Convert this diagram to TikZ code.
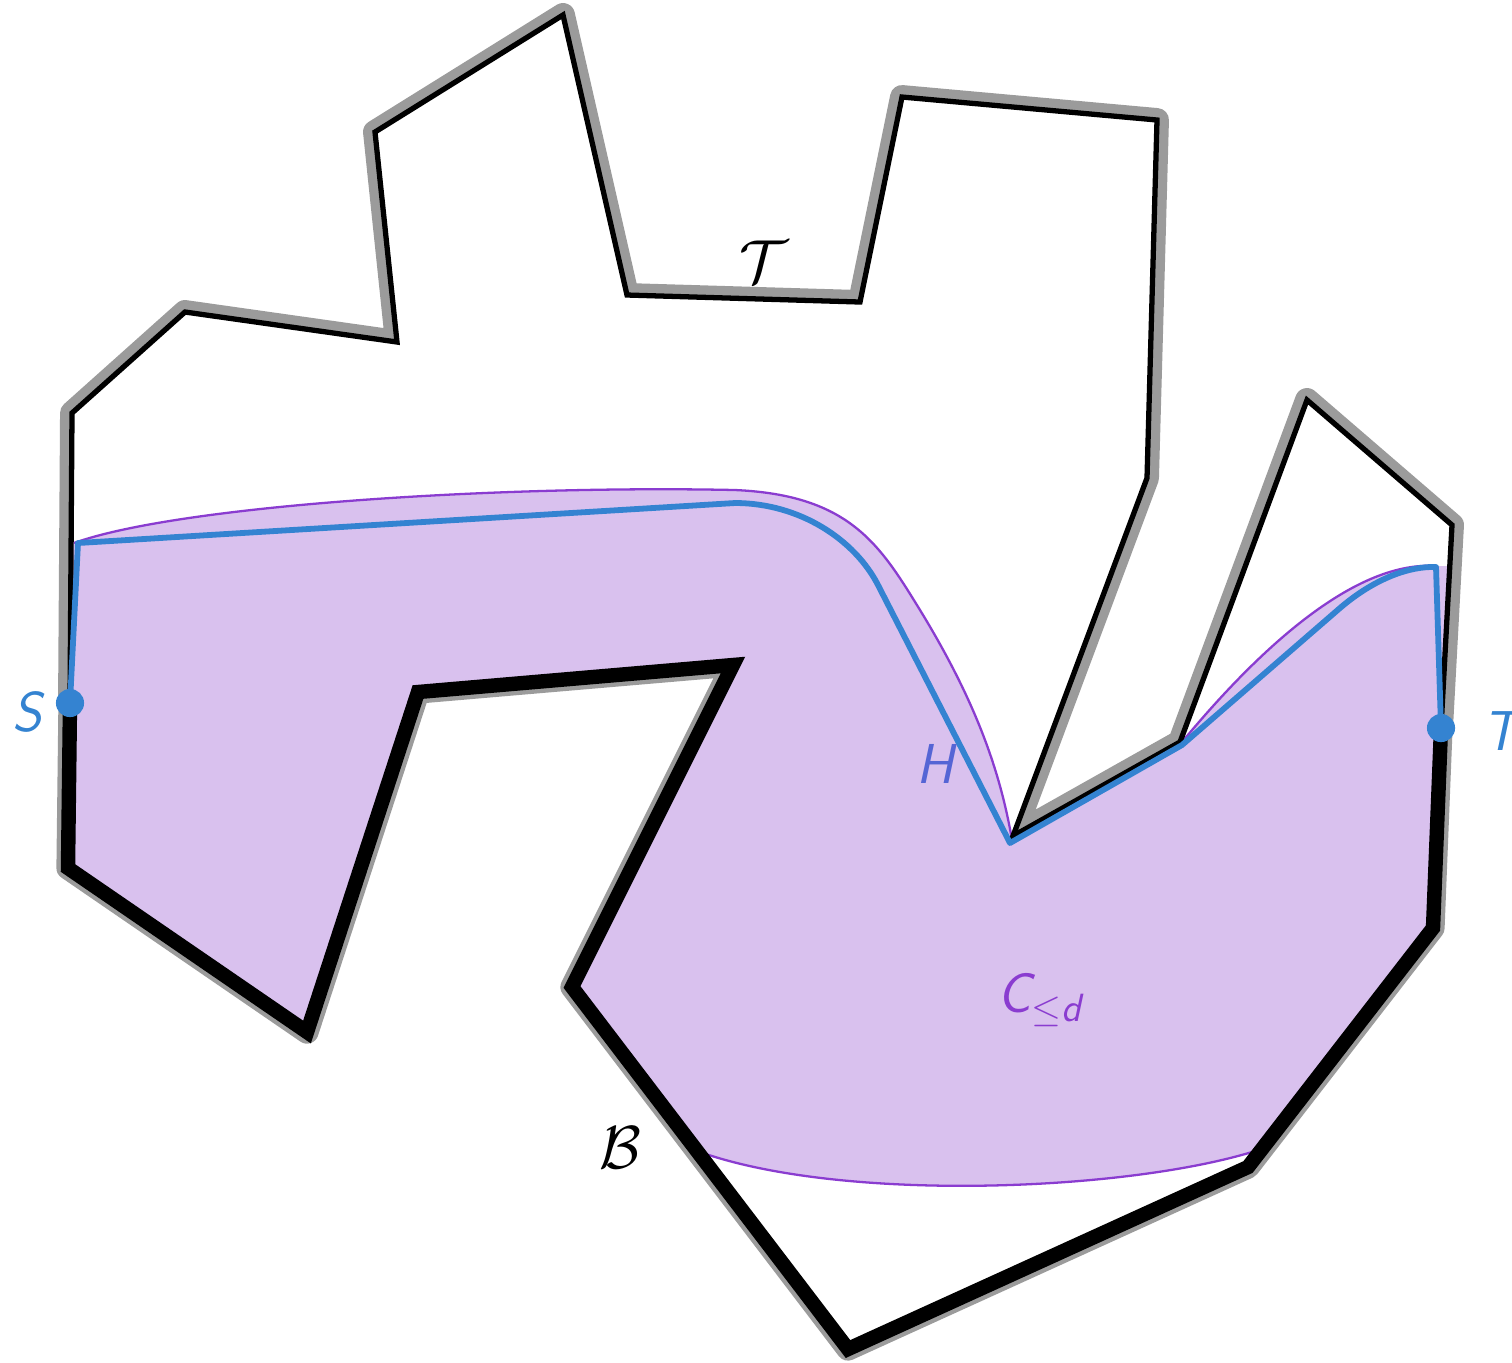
\documentclass[tikz,border=0pt]{standalone}
\usepackage{amsmath,amssymb}
\usepackage{tikz}
\usetikzlibrary{calc}
\definecolor{RimGray}{HTML}{9B9B9B}
\definecolor{PathBlue}{HTML}{3483D1}
\definecolor{ZoneLilac}{HTML}{D9C1EE}
\definecolor{ZonePurple}{HTML}{8A3CD0}
\definecolor{HIndigo}{HTML}{5565D5}
\tikzset{
  topshadow/.style={draw=RimGray,line width=6.8pt,line join=round,line cap=round},
  botshadow/.style={draw=RimGray,line width=6.6pt,line join=round,line cap=round},
  toprim/.style={draw=black,line width=1.5pt,line join=miter},
  botrim/.style={draw=black,line width=4.1pt,line join=miter},
  zoneedge/.style={draw=ZonePurple,line width=0.65pt},
  hpath/.style={draw=PathBlue,line width=1.65pt,line join=round},
  termdot/.style={circle,fill=PathBlue,inner sep=0pt,minimum size=8pt},
  lab/.style={font=\fontsize{16}{19}\selectfont\sffamily\itshape},
  callab/.style={font=\fontsize{17}{20}\selectfont},
  rimpath/.style={insert path={(S)--(t1)--(t2)--(t3)--(t4)--(t5)--(t6)--(t7)--(t8)--(t9)--(t10)--(t11)--(t12)--(t13)--(t14)--(T)--(b1)--(b2)--(b3)--(b4)--(b5)--(b6)--(b7)--(b8)--cycle}}
}

\begin{document}
\begin{tikzpicture}[x=0.01cm,y=-0.01cm]
\useasboundingbox (0,0) rectangle (1512,1362);
% boundary vertices (top chain T, bottom chain B)
\coordinate (S) at (70,703);
\coordinate (t1) at (72,413);
\coordinate (t2) at (185,312);
\coordinate (t3) at (397,342);
\coordinate (t4) at (375,132);
\coordinate (t5) at (563,15);
\coordinate (t6) at (627,295);
\coordinate (t7) at (860,302);
\coordinate (t8) at (902,97);
\coordinate (t9) at (1157,120);
\coordinate (t10) at (1147,478);
\coordinate (t11) at (1013,836);
\coordinate (t12) at (1180,742);
\coordinate (t13) at (1307,400);
\coordinate (t14) at (1452,525);
\coordinate (T) at (1441,728);
\coordinate (b1) at (1433,928);
\coordinate (b2) at (1248,1167);
\coordinate (b3) at (848,1349);
\coordinate (b4) at (572,987);
\coordinate (b5) at (733,665);
\coordinate (b6) at (418,692);
\coordinate (b7) at (307,1032);
\coordinate (b8) at (68,868);
% path H
\coordinate (h1) at (78,543);
\coordinate (h2) at (735,503);
\coordinate (h3) at (878,585);
\coordinate (h4) at (1010,843);
\coordinate (h5) at (1182,745);
\coordinate (h6) at (1340,608);
\coordinate (h7) at (1436,567);

\draw[topshadow] (S)--(t1)--(t2)--(t3)--(t4)--(t5)--(t6)--(t7)--(t8)--(t9)--(t10)--(t11)--(t12)--(t13)--(t14)--(T);
\draw[botshadow] (T)--(b1)--(b2)--(b3)--(b4)--(b5)--(b6)--(b7)--(b8)--(S);
\fill[white,rimpath];

\begin{scope}
\clip[rimpath];
\fill[ZoneLilac] (0,542) -- (78,542) .. controls (180,505) and (500,485) .. (735,490)
  .. controls (850,495) and (880,545) .. (920,610) .. controls (975,700) and (1000,770) .. (1012,840)
  -- (1182,742) .. controls (1250,660) and (1350,560) .. (1436,566) -- (1520,566) -- (1520,1146)
  -- (1270,1146) .. controls (1150,1190) and (850,1205) .. (700,1152) -- (0,1152) -- cycle;
\draw[zoneedge] (74,543) .. controls (180,505) and (500,485) .. (735,490)
  .. controls (850,495) and (880,545) .. (920,610) .. controls (975,700) and (1000,770) .. (1012,840);
\draw[zoneedge] (1182,742) .. controls (1250,660) and (1350,560) .. (1436,566);
\draw[zoneedge] (1270,1146) .. controls (1150,1190) and (850,1205) .. (700,1152);
\end{scope}

\draw[toprim] (S)--(t1)--(t2)--(t3)--(t4)--(t5)--(t6)--(t7)--(t8)--(t9)--(t10)--(t11)--(t12)--(t13)--(t14)--(T);
\draw[botrim] (T)--(b1)--(b2)--(b3)--(b4)--(b5)--(b6)--(b7)--(b8)--(S);

\draw[hpath] (S) -- (h1) -- (h2) .. controls (800,503) and (855,540) .. (h3) -- (h4) -- (h5) -- (h6)
  .. controls (1375,578) and (1410,566) .. (h7) -- (T);
\node[termdot] (dotS) at (S) {};
\node[termdot] (dotT) at (T) {};

\node[lab,text=PathBlue] (labS) at (27,712) {S};
\node[lab,text=PathBlue] (labT) at (1501,731) {T};
\node[lab,text=HIndigo] (labH) at (935,764) {H};
\node[lab,text=ZonePurple] (labC) at (1040,1000) {$\textsf{\itshape C}_{\le\textsf{\itshape d}}$};
\node[callab] (labTop) at (764,262) {$\mathcal{T}$};
\node[callab] (labBot) at (620,1148) {$\mathcal{B}$};
\end{tikzpicture}
\end{document}
